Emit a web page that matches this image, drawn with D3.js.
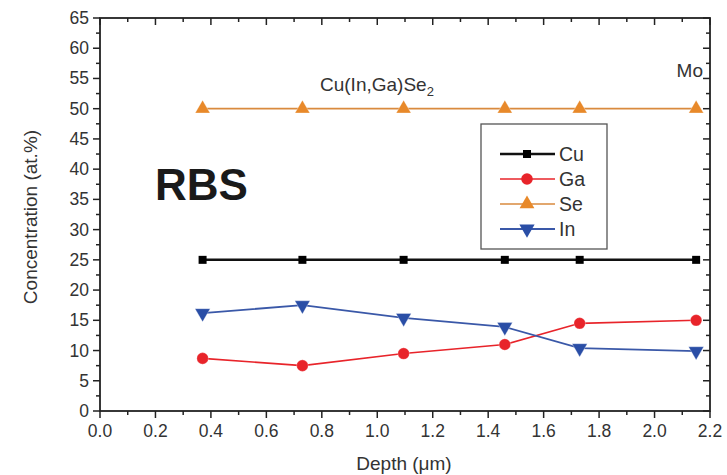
<!DOCTYPE html>
<html><head><meta charset="utf-8">
<script src="https://cdn.jsdelivr.net/npm/d3@7"></script>
<style>body{margin:0;background:#fff}svg{display:block;font-family:"Liberation Sans",Arial,sans-serif}</style>
</head><body>
<script>
const depth = [0.37, 0.73, 1.095, 1.46, 1.73, 2.15];
const cu = [25, 25, 25, 25, 25, 25];
const ga = [8.7, 7.5, 9.5, 11.0, 14.5, 15.0];
const se = [50, 50, 50, 50, 50, 50];
const inn = [16.2, 17.5, 15.4, 13.9, 10.4, 9.9];
const xTicks = [0.0,0.2,0.4,0.6,0.8,1.0,1.2,1.4,1.6,1.8,2.0,2.2];
const yTicks = [0,5,10,15,20,25,30,35,40,45,50,55,60,65];
const seriesNames = ["Cu","Ga","Se","In"];

const W=727,H=475, L=100,R=710,T=18,B=411;
const svg=d3.select("body").append("svg").attr("width",W).attr("height",H);
const x=d3.scaleLinear().domain([0,2.2]).range([L,R]);
const y=d3.scaleLinear().domain([0,65]).range([B,T]);
const ink="#222";

const series=[
 {name:"Cu",vals:cu,color:"#000",line:"#111",sym:d3.symbolSquare,size:64,w:2.5},
 {name:"Ga",vals:ga,color:"#e8242a",line:"#e8242a",sym:d3.symbolCircle,size:105,w:1.6},
 {name:"Se",vals:se,color:"#e8892a",line:"#d98a3e",sym:d3.symbolTriangle,size:95,w:1.7},
 {name:"In",vals:inn,color:"#2a4ea6",line:"#3a58a8",sym:d3.symbolTriangle,size:100,w:1.8,rot:180}
];

const g=svg.append("g");
const minorX=d3.range(0,2.21,0.1), minorY=d3.range(0,65.1,2.5);
g.append("g").selectAll("line").data(minorX).join("line")
 .attr("x1",d=>x(d)).attr("x2",d=>x(d)).attr("y1",B).attr("y2",d=>B+(Math.round(d*10)%2===0?7:4))
 .attr("stroke",ink).attr("stroke-width",1.5);
g.append("g").selectAll("line").data(minorX).join("line")
 .attr("x1",d=>x(d)).attr("x2",d=>x(d)).attr("y1",T).attr("y2",d=>T+(Math.round(d*10)%2===0?7:4))
 .attr("stroke",ink).attr("stroke-width",1.5);
g.append("g").selectAll("line").data(minorY).join("line")
 .attr("y1",d=>y(d)).attr("y2",d=>y(d)).attr("x1",L).attr("x2",d=>L-(Math.round(d*2)%2===0?7:4))
 .attr("stroke",ink).attr("stroke-width",1.5);
g.append("g").selectAll("line").data(minorY).join("line")
 .attr("y1",d=>y(d)).attr("y2",d=>y(d)).attr("x1",R).attr("x2",d=>R-(Math.round(d*2)%2===0?7:4))
 .attr("stroke",ink).attr("stroke-width",1.5);
g.append("rect").attr("x",L).attr("y",T).attr("width",R-L).attr("height",B-T)
 .attr("fill","none").attr("stroke",ink).attr("stroke-width",1.8);

g.append("g").selectAll("text").data(xTicks).join("text")
 .attr("x",d=>x(d)).attr("y",B+26).attr("text-anchor","middle")
 .attr("font-size",17.5).attr("fill","#333").text(d=>d.toFixed(1));
g.append("g").selectAll("text").data(yTicks).join("text")
 .attr("x",L-11).attr("y",d=>y(d)+6).attr("text-anchor","end")
 .attr("font-size",17.5).attr("fill","#333").text(d=>d);

svg.append("text").attr("x",404).attr("y",470).attr("text-anchor","middle")
 .attr("font-size",19).attr("fill","#333").text("Depth (\u03bcm)");
svg.append("text").attr("transform",`translate(37,217) rotate(-90)`).attr("text-anchor","middle")
 .attr("font-size",19).attr("fill","#333").text("Concentration (at.%)");

const line=d3.line().x(d=>x(d[0])).y(d=>y(d[1]));
series.forEach(s=>{
  const pts=depth.map((d,i)=>[d,s.vals[i]]);
  svg.append("path").attr("d",line(pts)).attr("fill","none").attr("stroke",s.line).attr("stroke-width",s.w);
  svg.append("g").selectAll("path").data(pts).join("path")
   .attr("d",d3.symbol().type(s.sym).size(s.size))
   .attr("transform",d=>`translate(${x(d[0])},${y(d[1])})${s.rot?" rotate("+s.rot+")":""}`)
   .attr("fill",s.color).attr("stroke",s.color==="#000"?"none":"#fff").attr("stroke-opacity",0.5).attr("stroke-width",0.6);
});

svg.append("text").attr("x",155).attr("y",200).attr("font-size",44).attr("font-weight","bold").attr("fill","#1a1a1a").text("RBS");
const ct=svg.append("text").attr("x",320).attr("y",91).attr("font-size",19).attr("fill","#333");
ct.append("tspan").text("Cu(In,Ga)Se");
ct.append("tspan").attr("font-size",13).attr("dy",5).text("2");
svg.append("text").attr("x",703).attr("y",77).attr("text-anchor","end").attr("font-size",19).attr("fill","#333").text("Mo");

const lg=svg.append("g");
lg.append("rect").attr("x",481).attr("y",124).attr("width",126).attr("height",125)
 .attr("fill","#fff").attr("stroke","#555").attr("stroke-width",1.3);
series.forEach((s,i)=>{
  const yy=154+i*25;
  lg.append("line").attr("x1",500).attr("x2",555).attr("y1",yy).attr("y2",yy).attr("stroke",s.line).attr("stroke-width",s.w);
  lg.append("path").attr("d",d3.symbol().type(s.sym).size(s.size))
   .attr("transform",`translate(527,${yy})${s.rot?" rotate("+s.rot+")":""}`).attr("fill",s.color);
  lg.append("text").attr("x",559).attr("y",yy+7).attr("font-size",19.5).attr("fill","#333").text(seriesNames[i]);
});
</script>
</body></html>
